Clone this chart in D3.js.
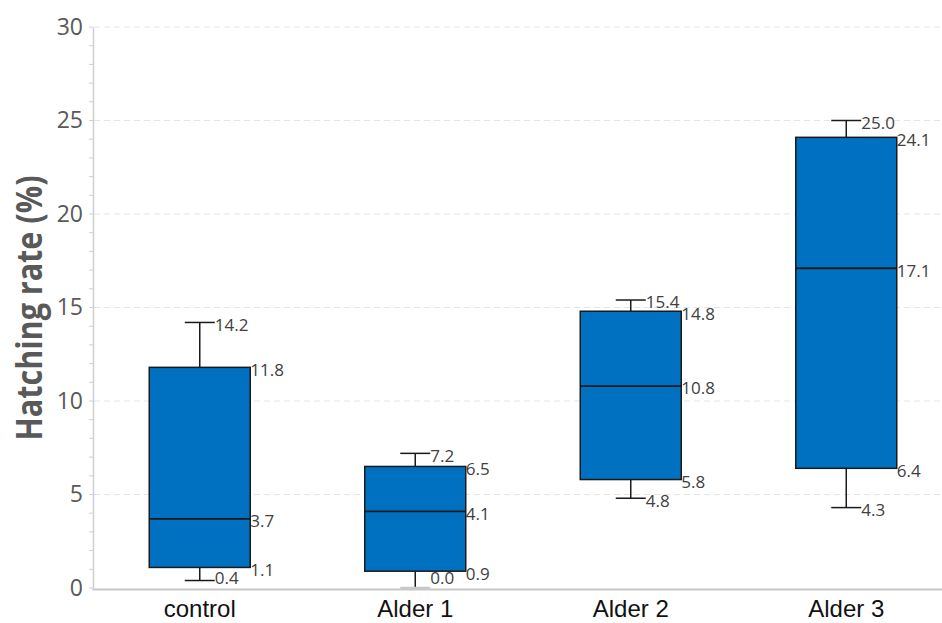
<!DOCTYPE html>
<html><head><meta charset="utf-8">
<script src="https://cdn.jsdelivr.net/npm/d3@7"></script>
<style>body{margin:0;background:#fff}svg{display:block}</style>
</head><body>
<svg id="c" width="942" height="623"></svg>
<script>
const categories = ["control", "Alder 1", "Alder 2", "Alder 3"];
const whiskerMin = [0.4, 0.0, 4.8, 4.3];
const q1 = [1.1, 0.9, 5.8, 6.4];
const median = [3.7, 4.1, 10.8, 17.1];
const q3 = [11.8, 6.5, 14.8, 24.1];
const whiskerMax = [14.2, 7.2, 15.4, 25.0];
const yTicks = [0, 5, 10, 15, 20, 25, 30];
const yTitle = "Hatching rate (%)";

const svg = d3.select("#c");
const x = d3.scaleBand().domain(categories).range([92, 954]).paddingInner(0).paddingOuter(0);
const y = d3.scaleLinear().domain([0, 30]).range([588, 27]);
const boxW = 101, capW = 30;
const fmt = d3.format(".1f");

// grid
svg.append("g").selectAll("line").data(yTicks.filter(d => d > 0)).join("line")
  .attr("x1", 94).attr("x2", 942).attr("y1", d => y(d)).attr("y2", d => y(d))
  .attr("stroke", "#e4e4e4").attr("stroke-width", 1).attr("stroke-dasharray", "6,4");

// minor ticks
svg.append("g").selectAll("line").data(d3.range(0, 31)).join("line")
  .attr("x1", 89).attr("x2", 93).attr("y1", d => y(d)).attr("y2", d => y(d))
  .attr("stroke", "#d0d0d0").attr("stroke-width", 1);

// y axis
const ya = svg.append("g").attr("transform", "translate(93,0)")
  .call(d3.axisLeft(y).tickValues(yTicks).tickSize(0).tickPadding(10));
ya.select(".domain").attr("stroke", "#d0d0d0").attr("stroke-width", 1.5);
ya.selectAll("text").attr("font-family", "'Open Sans', sans-serif").attr("font-size", 23).attr("fill", "#595959");

// x axis
const xa = svg.append("g").attr("transform", "translate(0,589)")
  .call(d3.axisBottom(x).tickSize(0).tickPadding(0));
xa.select(".domain").attr("stroke", "#c8c8c8").attr("stroke-width", 2);
xa.selectAll("text").attr("font-family", "'Liberation Sans', Arial, sans-serif").attr("font-size", 24).attr("fill", "#111").attr("dy", null).attr("y", 28);

// y title
svg.append("text").attr("transform", "translate(42,308) rotate(-90)")
  .attr("text-anchor", "middle").attr("font-family", "'Open Sans', sans-serif")
  .attr("font-weight", "bold").attr("font-size", 35).attr("fill", "#595959")
  .attr("textLength", 265).attr("lengthAdjust", "spacingAndGlyphs").text(yTitle);

const data = categories.map((c, i) => ({c, lo: whiskerMin[i], q1: q1[i], md: median[i], q3: q3[i], hi: whiskerMax[i]}));
const g = svg.append("g").selectAll("g").data(data).join("g");
const cx = d => x(d.c) + x.bandwidth() / 2;
const ink = "#1a1a1a";

// whiskers
g.append("line").attr("x1", cx).attr("x2", cx).attr("y1", d => y(d.q3)).attr("y2", d => y(d.hi)).attr("stroke", ink).attr("stroke-width", 1.5);
g.append("line").attr("x1", cx).attr("x2", cx).attr("y1", d => y(d.q1)).attr("y2", d => y(d.lo)).attr("stroke", ink).attr("stroke-width", 1.5);
g.append("line").attr("x1", d => cx(d) - capW/2).attr("x2", d => cx(d) + capW/2).attr("y1", d => y(d.hi)).attr("y2", d => y(d.hi)).attr("stroke", ink).attr("stroke-width", 1.5);
g.append("line").attr("x1", d => cx(d) - capW/2).attr("x2", d => cx(d) + capW/2).attr("y1", d => y(d.lo)).attr("y2", d => y(d.lo)).attr("stroke", d => d.lo === 0 ? "#c8c8c8" : ink).attr("stroke-width", d => d.lo === 0 ? 2.5 : 1.5);

// boxes
g.append("rect").attr("x", d => cx(d) - boxW/2).attr("width", boxW)
  .attr("y", d => y(d.q3)).attr("height", d => y(d.q1) - y(d.q3))
  .attr("fill", "#0070C0").attr("stroke", ink).attr("stroke-width", 1.5);
g.append("line").attr("x1", d => cx(d) - boxW/2).attr("x2", d => cx(d) + boxW/2)
  .attr("y1", d => y(d.md)).attr("y2", d => y(d.md)).attr("stroke", ink).attr("stroke-width", 1.8);

// labels (kept inside the plot area)
const lab = (sel, key, dx) => sel.append("text")
  .attr("x", d => cx(d) + dx).attr("y", d => Math.min(y(d[key]) + 2.5, y(0) - 10)).attr("dy", "0.35em")
  .attr("font-family", "'Open Sans', sans-serif").attr("font-size", 17).attr("fill", "#404040")
  .text(d => fmt(d[key]));
lab(g, "hi", capW/2);
lab(g, "lo", capW/2);
lab(g, "q3", boxW/2);
lab(g, "md", boxW/2);
lab(g, "q1", boxW/2);
</script>
</body></html>
